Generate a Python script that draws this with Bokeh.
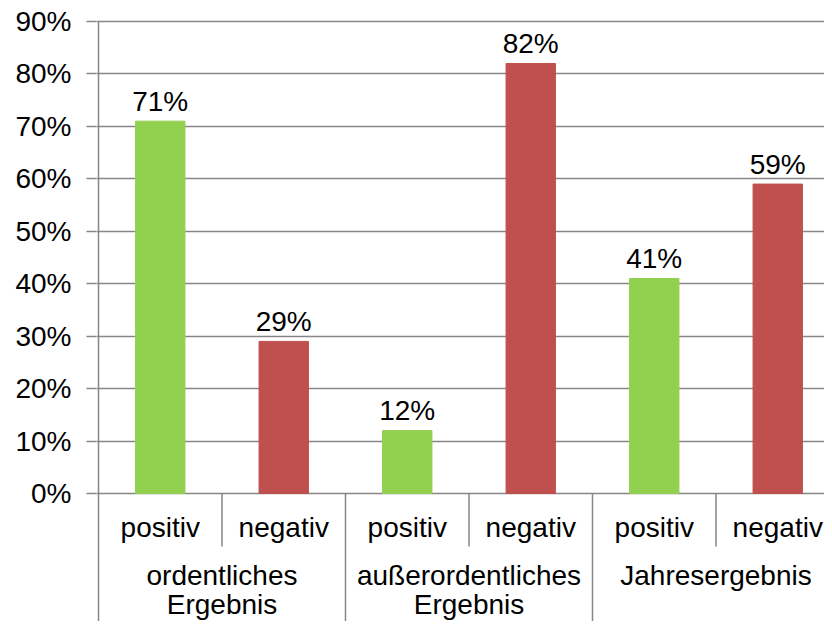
from bokeh.plotting import figure
from bokeh.models import Range1d, FixedTicker, ColumnDataSource
from bokeh.core.properties import value
from bokeh.embed import file_html
from bokeh.resources import INLINE

# ---- data ----
groups_line1 = ["ordentliches", "außerordentliches", "Jahresergebnis"]
groups_line2 = ["Ergebnis", "Ergebnis", ""]
subcats = ["positiv", "negativ", "positiv", "negativ", "positiv", "negativ"]
values = [71, 29, 12, 82, 41, 59]
colors = ["#92D050", "#C0504D", "#92D050", "#C0504D", "#92D050", "#C0504D"]
y_ticks = [0, 10, 20, 30, 40, 50, 60, 70, 80, 90]

FONT = "Liberation Sans"
FS = "28px"
PX_X = 123.5       # pixels per category slot
PX_Y = 472.0 / 90  # pixels per percent

W, H = 824, 621
left, top = 96, 11
frame_w = W - left
frame_h = H - top
x0 = -(2 / PX_X)
x1 = x0 + frame_w / PX_X
y1 = 90 + 10 / PX_Y
y0 = y1 - frame_h / PX_Y
ZERO = 493  # pixel row of 0%


def below(px):
    return -(px - ZERO) / PX_Y


p = figure(width=W, height=H, output_backend="svg", toolbar_location=None,
           x_range=Range1d(x0, x1), y_range=Range1d(y0, y1),
           min_border_left=left, min_border_right=0, min_border_top=top,
           min_border_bottom=0)
p.outline_line_color = None
p.background_fill_color = "white"
p.border_fill_color = "white"
p.xaxis.visible = False
p.xgrid.visible = False

p.yaxis.ticker = FixedTicker(ticks=y_ticks)
p.yaxis.major_label_overrides = {t: f"{t}%" for t in y_ticks}
p.yaxis.axis_line_color = None
p.yaxis.minor_tick_line_color = None
p.yaxis.major_tick_in = 0
p.yaxis.major_tick_out = 10
p.yaxis.major_tick_line_color = "#868686"
p.yaxis.major_tick_line_width = 1.5
p.yaxis.major_label_text_font = FONT
p.yaxis.major_label_text_font_size = FS
p.yaxis.major_label_text_color = "#000000"
p.yaxis.major_label_standoff = 15
p.ygrid.ticker = FixedTicker(ticks=y_ticks)
p.ygrid.grid_line_color = "#868686"
p.ygrid.grid_line_width = 1.5
p.ygrid.grid_line_alpha = 1.0

xs = [i + 0.5 for i in range(len(values))]
src = ColumnDataSource(dict(x=xs, top=values, color=colors,
                            label=[f"{v}%" for v in values], sub=subcats,
                            laby=[v + 20 / PX_Y for v in values],
                            suby=[below(527)] * len(values)))
p.vbar(x="x", top="top", bottom=0, width=0.4, color="color", source=src)

# y axis line (down through category area)
p.segment(x0=[0], y0=[y0], x1=[0], y1=[90], line_color="#868686", line_width=1.5)
# separators below axis
sub_sep = [1, 3, 5]
grp_sep = [2, 4]
p.segment(x0=sub_sep, y0=[0] * 3, x1=sub_sep, y1=[below(546)] * 3,
          line_color="#868686", line_width=1.5)
p.segment(x0=grp_sep, y0=[0] * 2, x1=grp_sep, y1=[y0] * 2,
          line_color="#868686", line_width=1.5)

# value labels
p.text(x="x", y="laby", text="label", source=src, text_align="center",
       text_baseline="middle", text_font=value(FONT),
       text_font_size=FS, text_color="#000000")
# sub category labels
p.text(x="x", y="suby", text="sub", source=src, text_align="center",
       text_baseline="middle", text_font=value(FONT), text_font_size=FS,
       text_color="#000000")
# group labels
gx = [1, 3, 5]
p.text(x=gx, y=[below(575)] * 3, text=groups_line1, text_align="center",
       text_baseline="middle", text_font=value(FONT), text_font_size=FS,
       text_color="#000000")
p.text(x=gx, y=[below(604)] * 3, text=groups_line2, text_align="center",
       text_baseline="middle", text_font=value(FONT), text_font_size=FS,
       text_color="#000000")

open("out.html", "w").write(file_html(p, INLINE))
